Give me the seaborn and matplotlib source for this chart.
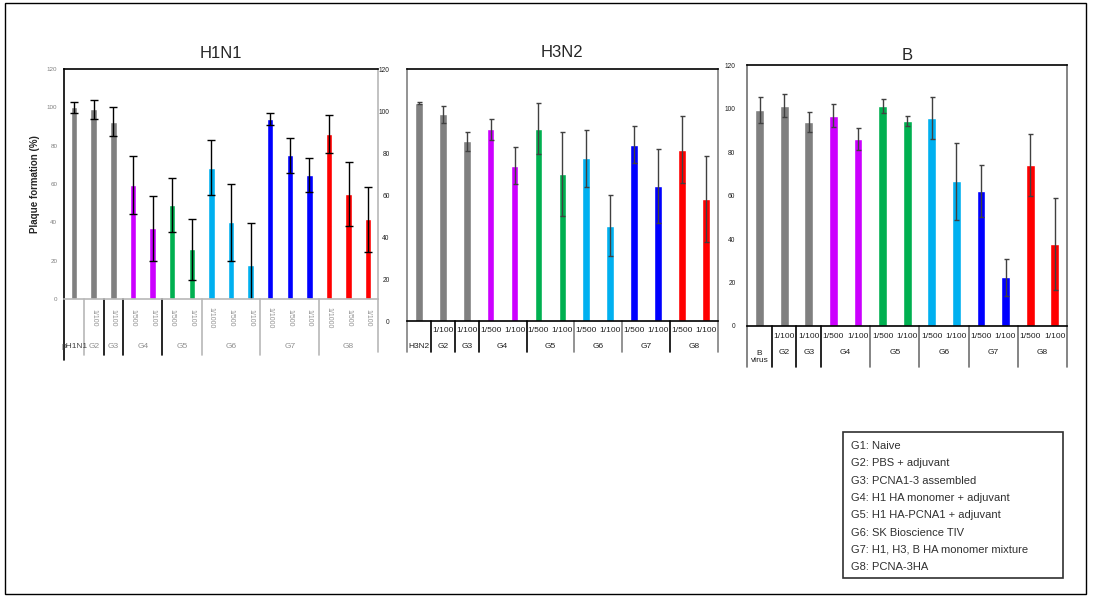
import pandas as pd
import matplotlib.pyplot as plt
import seaborn as sns
from matplotlib.patches import Rectangle
from matplotlib.transforms import blended_transform_factory

W, H = 1094, 596

# colores por grupo
COLORES = {'G1': '#808080', 'G2': '#808080', 'G3': '#808080', 'G4': '#CC00FF',
           'G5': '#00B050', 'G6': '#00B0F0', 'G7': '#0000FF', 'G8': '#FF0000'}

# H1N1
h1_grupos = ['G1', 'G2', 'G3', 'G4', 'G4', 'G5', 'G5', 'G6', 'G6', 'G6',
             'G7', 'G7', 'G7', 'G8', 'G8', 'G8']
h1_dil = ['', '1/100', '1/100', '1/500', '1/100', '1/500', '1/100', '1/1000', '1/500', '1/100',
          '1/1000', '1/500', '1/100', '1/1000', '1/500', '1/100']
h1_valores = [100, 99, 92.5, 59.5, 37, 49, 26, 68.6, 40, 17.7, 94, 75, 64.6, 86, 55, 41.5]
h1_errores = [3, 5, 7.5, 15, 17, 14, 16, 14.5, 20, 22, 3, 9, 9, 10, 16.7, 17]

# H3N2
h3_grupos = ['G1', 'G2', 'G3', 'G4', 'G4', 'G5', 'G5', 'G6', 'G6', 'G7', 'G7', 'G8', 'G8']
h3_dil = ['', '1/100', '1/100', '1/500', '1/100', '1/500', '1/100', '1/500', '1/100',
          '1/500', '1/100', '1/500', '1/100']
h3_valores = [103.8, 98.6, 85.7, 91.3, 74.1, 91.7, 70, 77.5, 45.4, 84.1, 64.3, 81.7, 58.1]
h3_errores = [0.5, 4, 4.5, 5, 9, 12, 20, 13.5, 14.5, 9, 17.7, 16, 20.5]

# B
b_grupos = h3_grupos
b_dil = h3_dil
b_valores = [99.6, 101.3, 93.9, 96.8, 86, 101.4, 94.4, 95.6, 66.6, 62, 22.4, 74.1, 37.7]
b_errores = [6, 5.3, 4.5, 5.4, 5, 3.3, 2.3, 9.7, 17.7, 12, 8.5, 14.3, 21]

leyenda = ['G1: Naive', 'G2: PBS + adjuvant', 'G3: PCNA1-3 assembled',
           'G4: H1 HA monomer + adjuvant', 'G5: H1 HA-PCNA1 + adjuvant',
           'G6: SK Bioscience TIV', 'G7: H1, H3, B HA monomer mixture', 'G8: PCNA-3HA']

sns.set_style('white')
plt.rcParams['font.family'] = ['Liberation Sans', 'DejaVu Sans']


def fy(ypx):
    return 1 - ypx / H


def caja(x0, y0, x1, y1):
    return [x0 / W, fy(y1), (x1 - x0) / W, (y1 - y0) / H]


def dibujar_panel(ax, grupos, dil, valores, errores, nombre_g1, ancho, ecolor, capsize):
    etiquetas = [f'{g} {d}' for g, d in zip(grupos, dil)]
    df = pd.DataFrame({'barra': etiquetas, 'valor': valores})
    paleta = [COLORES[g] for g in grupos]
    sns.barplot(data=df, x='barra', y='valor', hue='barra', palette=paleta, order=etiquetas,
                hue_order=etiquetas, width=ancho, legend=False, saturation=1, ax=ax)
    ax.errorbar(range(len(valores)), valores, yerr=errores, fmt='none', ecolor=ecolor,
                elinewidth=1, capsize=capsize, capthick=1)
    ax.set_xlim(-0.5, len(valores) - 0.5)
    ax.set_ylim(0, 120)
    ax.set_yticks(range(0, 121, 20))
    ax.set_xticks([])
    ax.set_xlabel('')
    ax.set_ylabel('')
    # grupos consecutivos para la tabla
    tramos = []
    inicio = 0
    for i in range(1, len(grupos) + 1):
        if i == len(grupos) or grupos[i] != grupos[inicio]:
            tramos.append((grupos[inicio], inicio, i - 1))
            inicio = i
    nombres = [nombre_g1 if g == 'G1' else g for g, _, _ in tramos]
    return tramos, nombres


fig = plt.figure(figsize=(W / 100, H / 100), dpi=100)

# marco exterior
fig.add_artist(Rectangle((5 / W, fy(594)), 1081 / W, 591 / H, transform=fig.transFigure,
                         fill=False, edgecolor='black', lw=1))

# ---------------- H1N1 ----------------
ax1 = fig.add_axes(caja(64.3, 69, 378, 299))
tramos, nombres = dibujar_panel(ax1, h1_grupos, h1_dil, h1_valores, h1_errores,
                                'pH1N1', 0.33, 'black', 3)
ax1.set_title('H1N1', fontsize=12, pad=8)
ax1.set_ylabel('Plaque formation (%)', fontsize=7, fontweight='bold', labelpad=5)
ax1.tick_params(axis='y', labelsize=4.5, labelcolor='#808080', length=0, pad=5)
for lado, c in [('left', 'black'), ('top', 'black'), ('right', '#b8b8b8'), ('bottom', '#b8b8b8')]:
    ax1.spines[lado].set_color(c)
    ax1.spines[lado].set_linewidth(1.2)
tr = blended_transform_factory(ax1.transData, fig.transFigure)
ax1.plot([-0.5, -0.5], [fy(299), fy(360)], color='black', lw=1.2, transform=tr, clip_on=False)
ax1.plot([15.5, 15.5], [fy(299), fy(352)], color='#b8b8b8', lw=1.2, transform=tr, clip_on=False)
sep1 = {0.5: '#b8b8b8', 1.5: 'black', 2.5: 'black', 4.5: 'black', 6.5: '#b8b8b8',
        9.5: '#b8b8b8', 12.5: '#b8b8b8'}
for xs, c in sep1.items():
    ax1.plot([xs, xs], [fy(299), fy(355)], color=c, lw=1.2, transform=tr, clip_on=False)
for i, d in enumerate(h1_dil):
    if d:
        ax1.text(i, fy(318), d, rotation=270, ha='center', va='center', fontsize=5,
                 color='#909090', transform=tr)
for (g, a, b), n in zip(tramos, nombres):
    ax1.text((a + b) / 2, fy(346), n, ha='center', va='center', fontsize=6,
             color='#909090' if g != 'G1' else '#404040', transform=tr)

# ---------------- H3N2 ----------------
ax2 = fig.add_axes(caja(407, 69.3, 717.7, 321))
tramos, nombres = dibujar_panel(ax2, h3_grupos, h3_dil, h3_valores, h3_errores,
                                'H3N2', 0.32, '#404040', 1.8)
ax2.set_title('H3N2', fontsize=12, pad=9)
ax2.tick_params(axis='y', labelsize=4.8, labelcolor='#202020', length=0, pad=12.5)
for lado, c in [('left', '#808080'), ('top', 'black'), ('right', '#808080'), ('bottom', 'black')]:
    ax2.spines[lado].set_color(c)
    ax2.spines[lado].set_linewidth(1.2)
tr = blended_transform_factory(ax2.transData, fig.transFigure)
ax2.plot([-0.5, -0.5], [fy(321), fy(352)], color='#808080', lw=1.2, transform=tr, clip_on=False)
ax2.plot([12.5, 12.5], [fy(321), fy(352)], color='#808080', lw=1.2, transform=tr, clip_on=False)
sep2 = {0.5: 'black', 1.5: 'black', 2.5: 'black', 4.5: 'black', 6.5: '#808080',
        8.5: '#808080', 10.5: 'black'}
for xs, c in sep2.items():
    ax2.plot([xs, xs], [fy(321), fy(352)], color=c, lw=1.2, transform=tr, clip_on=False)
for i, d in enumerate(h3_dil):
    if d:
        ax2.text(i, fy(331), d, ha='center', va='center', fontsize=6, color='#202020', transform=tr)
for (g, a, b), n in zip(tramos, nombres):
    ax2.text((a + b) / 2, fy(347), n, ha='center', va='center', fontsize=6,
             color='#202020', transform=tr)

# ---------------- B ----------------
ax3 = fig.add_axes(caja(747.3, 65.3, 1067, 326))
tramos, nombres = dibujar_panel(ax3, b_grupos, b_dil, b_valores, b_errores,
                                'B\nvirus', 0.36, '#404040', 1.8)
ax3.set_title('B', fontsize=12, pad=4)
ax3.tick_params(axis='y', labelsize=4.8, labelcolor='#202020', length=0, pad=8.5)
for lado, c in [('left', '#707070'), ('top', 'black'), ('right', '#707070'), ('bottom', 'black')]:
    ax3.spines[lado].set_color(c)
    ax3.spines[lado].set_linewidth(1.2)
tr = blended_transform_factory(ax3.transData, fig.transFigure)
ax3.plot([-0.5, -0.5], [fy(326), fy(367)], color='#707070', lw=1.2, transform=tr, clip_on=False)
ax3.plot([12.5, 12.5], [fy(326), fy(367)], color='#707070', lw=1.2, transform=tr, clip_on=False)
sep3 = {0.5: 'black', 1.5: 'black', 2.5: 'black', 4.5: '#707070', 6.5: '#707070',
        8.5: '#707070', 10.5: '#707070'}
for xs, c in sep3.items():
    ax3.plot([xs, xs], [fy(326), fy(367)], color=c, lw=1.2, transform=tr, clip_on=False)
for i, d in enumerate(b_dil):
    if d:
        ax3.text(i, fy(337), d, ha='center', va='center', fontsize=6, color='#202020', transform=tr)
for (g, a, b), n in zip(tramos, nombres):
    ax3.text((a + b) / 2, fy(357 if g == 'G1' else 352), n, ha='center', va='center', fontsize=6,
             color='#202020', transform=tr, linespacing=1.1)

# ---------------- leyenda ----------------
fig.add_artist(Rectangle((843 / W, fy(578)), 220 / W, 146 / H, transform=fig.transFigure,
                         fill=False, edgecolor='#303030', lw=1.2))
for k, linea in enumerate(leyenda):
    fig.text(851 / W, fy(446 + k * 17.3), linea, fontsize=8, color='#303030',
             ha='left', va='center')

fig.savefig('out.png', dpi=100)
